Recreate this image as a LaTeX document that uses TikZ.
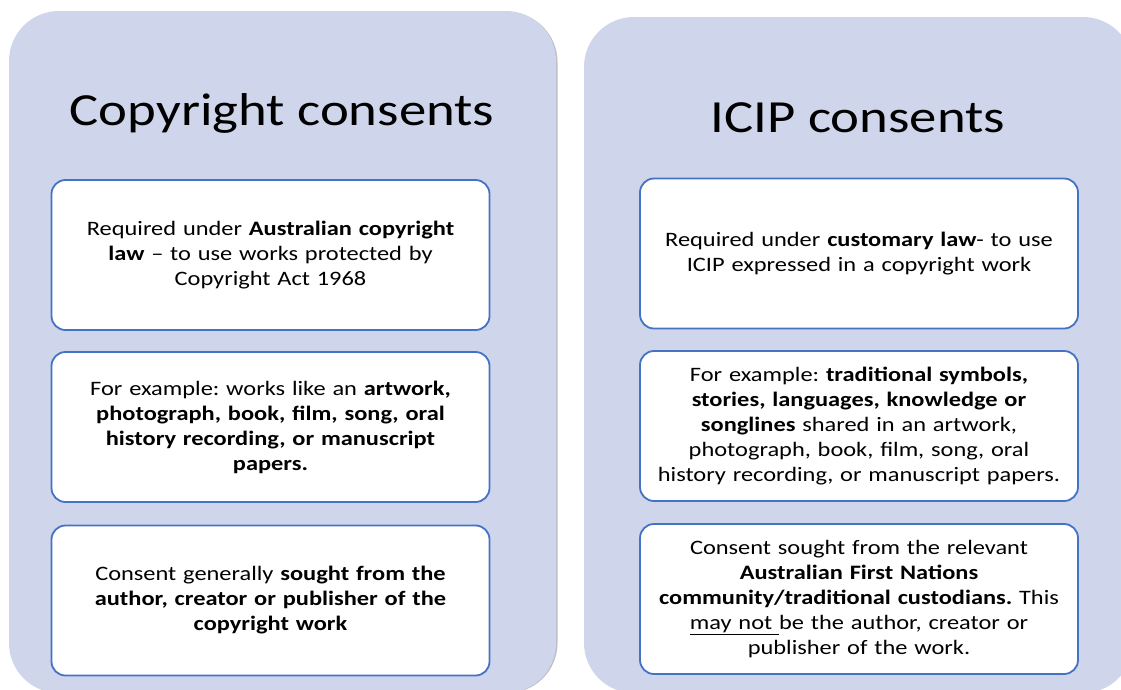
\documentclass[tikz,border=0pt]{standalone}
\usepackage{fontspec}
\setmainfont{Carlito}[FakeStretch=1.19]
\frenchspacing
\definecolor{panelfill}{HTML}{CFD5EA}
\definecolor{boxline}{HTML}{4472C4}
\definecolor{shadowc}{HTML}{BDBFC5}
\tikzset{
  panel/.style={fill=panelfill, draw=none, rounded corners=50pt},
  infobox/.style={draw=boxline, line width=1.8pt, fill=white, rounded corners=14pt,
    minimum width=438pt, minimum height=150pt, align=center, text width=430pt,
    font=\fontsize{20.5}{25}\selectfont, inner sep=0pt},
  titletext/.style={font=\fontsize{46}{56}\selectfont, inner sep=0pt}
}
\begin{document}
\begin{tikzpicture}[x=1pt,y=-1pt]
\useasboundingbox (0,0) rectangle (1121,689);
\clip (0,0) rectangle (1121,689);
% panels
\fill[shadowc, rounded corners=50pt] (10.5,12) rectangle (557.5,693);
\path[panel] (9,11) rectangle (556,693);
\path[panel] (584,17) rectangle (1133,693);
% titles
\node[titletext] (t1) at (282,113) {Copyright consents};
\node[titletext] (t2) at (858,118) {ICIP consents};
% left boxes
\node[infobox] (l1) at (270.5,255) {Required under \textbf{Australian copyright}\\\textbf{law} -- to use works protected by\\Copyright Act 1968};
\node[infobox] (l2) at (270.5,427) {For example: works like an \textbf{artwork,}\\\textbf{photograph, book, film, song, oral}\\\textbf{history recording, or manuscript}\\\textbf{papers.}};
\node[infobox] (l3) at (270.5,600.5) {Consent generally \textbf{sought from the}\\\textbf{author, creator or publisher of the}\\\textbf{copyright work}};
% right boxes
\node[infobox] (r1) at (859,253.5) {Required under \textbf{customary law}- to use\\ICIP expressed in a copyright work};
\node[infobox] (r2) at (859,426) {For example: \textbf{traditional symbols,}\\\textbf{stories, languages, knowledge or}\\\textbf{songlines} shared in an artwork,\\photograph, book, film, song, oral\\history recording, or manuscript papers.};
\node[infobox] (r3) at (859,599) {Consent sought from the relevant\\\textbf{Australian First Nations}\\\textbf{community/traditional custodians.} This\\\underline{may not }be the author, creator or\\publisher of the work.};
\end{tikzpicture}
\end{document}
